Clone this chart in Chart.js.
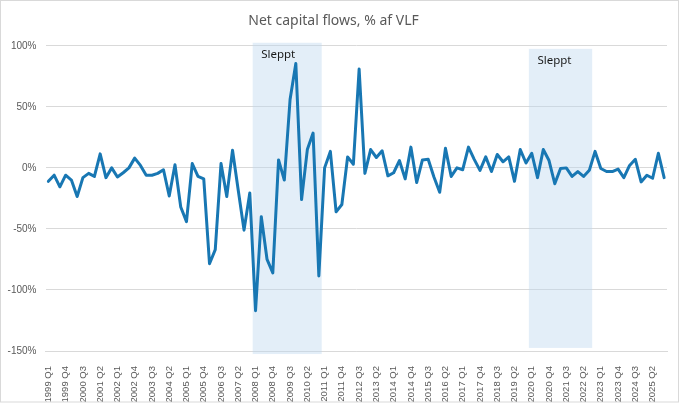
<!DOCTYPE html>
<html lang="en">
<head>
  <meta charset="UTF-8">
  <title>Net capital flows</title>
  <style>
    body {
      margin: 0;
      background: #ffffff;
    }
    #chart {
      display: block;
    }
  </style>
  <script src="https://cdn.jsdelivr.net/npm/chart.js"></script>
</head>
<body>
  <canvas id="chart" width="680" height="403"></canvas>

  <script>
    // quarters 1999 Q1 .. 2025 Q4
    const firstYear = 1999;
    const lastYear = 2025;
    const quarters = [];
    for (let y = firstYear; y <= lastYear; y++) {
      for (let q = 1; q <= 4; q++) quarters.push(y + ' Q' + q);
    }

    // net capital flows, % af VLF
    const flows = [
      -11, -6, -15.5, -6, -10, -23.5, -8, -4.5, -7, 11.5,
      -8, 0, -7.5, -4, 0, 8, 2, -6, -6, -4.5,
      -1.5, -23, 2.5, -32, -44, 3.5, -7, -9, -78.5, -67,
      3.5, -23.5, 14.5, -18.5, -51, -20.5, -117, -40, -75, -86,
      6.5, -10, 56, 85.5, -26, 15, 28.5, -88.5, 0, 13.5,
      -36, -30, 9, 3, 81, -4.5, 15, 8.5, 14, -6.5,
      -4, 6, -9, 17, -12, 6.5, 7, -7.5, -20, 16,
      -7, 0, -1.5, 17, 7, -2, 9, -3, 11, 5,
      9, -11, 15, 4, 12, -8, 15, 6, -13, -0.5,
      0, -7, -3, -7, -2, 13.5, -0.5, -3, -3, -1,
      -8, 2, 7, -11.5, -6, -8.5, 12, -8
    ];

    // shaded periods that were left out
    const bandStart = ['2008 Q1', '2020 Q1'];
    const bandEnd = ['2010 Q4', '2022 Q3'];
    const bandTop = [102.5, 97.5];
    const bandBottom = [-152.5, -147.5];
    const bandText = ['Sleppt', 'Sleppt'];

    const yTicks = [100, 50, 0, -50, -100, -150];

    const bandsPlugin = {
      id: 'bands',
      beforeDatasetsDraw(chart) {
        const ctx = chart.ctx;
        const x = chart.scales.x;
        const y = chart.scales.y;
        const half = (x.getPixelForValue(1) - x.getPixelForValue(0)) / 2;
        ctx.save();
        for (let i = 0; i < bandStart.length; i++) {
          const left = x.getPixelForValue(quarters.indexOf(bandStart[i])) - half;
          const right = x.getPixelForValue(quarters.indexOf(bandEnd[i])) + half;
          const top = y.getPixelForValue(bandTop[i]);
          const bottom = y.getPixelForValue(bandBottom[i]);
          ctx.fillStyle = 'rgba(189, 215, 238, 0.42)';
          ctx.fillRect(left, top, right - left, bottom - top);
          ctx.fillStyle = '#1a1a1a';
          ctx.font = '11.5px "Noto Sans"';
          ctx.textBaseline = 'alphabetic';
          ctx.fillText(bandText[i], left + 8.5, top + 15);
        }
        ctx.restore();
      },
      afterDraw(chart) {
        // chart border
        const ctx = chart.ctx;
        ctx.save();
        ctx.strokeStyle = '#d9d9d9';
        ctx.lineWidth = 1;
        ctx.strokeRect(0.5, 0.5, chart.width - 2, chart.height - 1.5);
        ctx.restore();
      }
    };

    const chart = new Chart(document.getElementById('chart'), {
      type: 'line',
      data: {
        labels: quarters,
        datasets: [{
          label: 'Net capital flows',
          data: flows,
          borderColor: '#1877b3',
          borderWidth: 3,
          borderJoinStyle: 'round',
          borderCapStyle: 'round',
          pointRadius: 0,
          tension: 0,
          fill: false
        }]
      },
      options: {
        responsive: false,
        animation: false,
        layout: { padding: { left: 0, right: 13, top: 0, bottom: 0 } },
        plugins: {
          legend: { display: false },
          tooltip: { enabled: false },
          title: {
            display: true,
            text: 'Net capital flows, % af VLF',
            color: '#595959',
            font: { family: '"Noto Sans"', size: 14, weight: 'normal' },
            padding: { top: 13, bottom: 16 }
          }
        },
        scales: {
          x: {
            offset: true,
            grid: { display: false },
            border: { display: true, color: '#d9d9d9' },
            ticks: {
              autoSkip: false,
              minRotation: 90,
              maxRotation: 90,
              padding: 7,
              color: '#595959',
              font: { family: '"Liberation Sans"', size: 9.5 },
              callback: (v, i) => (i % 3 === 0 ? quarters[i] : '')
            },
            afterFit: s => {
              s.height = 52;
              s.paddingLeft = 0;
              s.paddingRight = 0;
            }
          },
          y: {
            min: -150,
            max: 100,
            afterBuildTicks: s => { s.ticks = yTicks.map(v => ({ value: v })); },
            grid: { color: '#d9d9d9', drawTicks: false },
            border: { display: false },
            ticks: {
              padding: 9,
              color: '#595959',
              font: { family: '"Liberation Sans"', size: 10 },
              callback: v => v + '%'
            },
            afterFit: s => { s.width = 45.5; }
          }
        }
      },
      plugins: [bandsPlugin]
    });
  </script>
</body>
</html>
